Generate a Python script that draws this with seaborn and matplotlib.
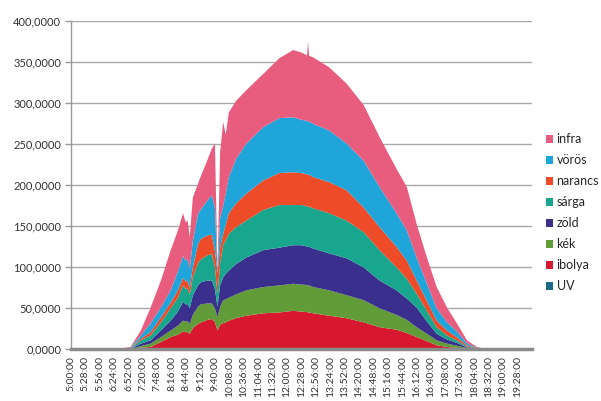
import numpy as np
import matplotlib
matplotlib.use("Agg")
import matplotlib.pyplot as plt
import seaborn as sns
from matplotlib.patches import Patch
from matplotlib.ticker import FuncFormatter

# sample times
times = ["5:00", "6:30", "6:55", "7:15", "7:34", "7:54", "8:13", "8:27", "8:37", "8:42",
         "8:46", "8:50", "8:56", "9:06", "9:12", "9:25", "9:33", "9:39", "9:44", "9:49",
         "9:55", "10:00", "10:06", "10:20", "10:40", "11:13", "11:44", "12:11", "12:27", "12:38",
         "12:40", "12:42", "12:50", "13:21", "13:55", "14:28", "14:59", "15:32", "15:52", "16:11",
         "16:31", "16:50", "17:10", "17:29", "17:49", "18:08", "18:28", "19:56"]

uv = [0, 0, 0, 0.1, 0.2, 0.3, 0.5, 0.6, 0.7, 0.7,
      0.7, 0.6, 0.8, 0.9, 1.0, 1.0, 1.1, 1.0, 0.7, 0.9,
      1.0, 1.0, 1.1, 1.2, 1.3, 1.4, 1.5, 1.5, 1.5, 1.5,
      1.5, 1.5, 1.4, 1.3, 1.2, 1.1, 0.9, 0.7, 0.6, 0.5,
      0.3, 0.2, 0.1, 0.1, 0, 0, 0, 0]
ibolya = [0, 0, 0.2, 1.9, 2.8, 8.7, 14.5, 17.4, 21.3, 20.3,
          20.3, 18.4, 25.2, 30.1, 32, 35, 35.9, 32, 22.3, 29.1,
          31, 32, 33.9, 36.8, 39.7, 42.6, 43.5, 45.5, 44.5, 44,
          43.5, 43.5, 42.6, 39.7, 36.8, 31.9, 26.1, 23.3, 19.4, 14.5,
          9.7, 4.8, 2.9, 1.7, 0.6, 0.2, 0, 0]
kek = [0, 0, 0.2, 2, 4, 6, 8, 11, 13, 13,
       13, 12, 16, 21, 22, 20, 19, 17, 16, 22,
       28, 28, 28, 29, 31, 32, 33, 33, 33, 33,
       33, 33, 32, 31, 28, 27, 23, 18, 16, 12,
       9, 6, 4, 2.7, 0.9, 0.2, 0, 0]
zold = [0, 0, 0.3, 3, 4, 8, 12, 17, 23, 21,
        21, 19, 24, 26, 27, 28, 28, 23, 13, 26,
        28, 31, 33, 37, 40, 45, 46, 47, 48, 47,
        47, 47, 47, 45, 45, 40, 34, 30, 26, 24,
        15, 8, 5, 3.5, 1, 0.3, 0, 0]
sarga = [0, 0, 0.3, 4, 6, 10, 15, 17, 20, 19,
         19, 17, 22, 27, 28, 31, 32, 27, 16, 27,
         39, 41, 45, 45, 45, 49, 52, 49, 49, 49,
         49, 49, 49, 49, 46, 43, 37, 28, 24, 17,
         13, 8, 5, 3, 1, 0.3, 0, 0]
narancs = [0, 0, 0.3, 2, 4, 6, 7, 9, 9, 9,
           9, 8, 12, 23, 25, 24, 24, 20, 25, 19,
           14, 19, 25, 29, 33, 36, 39, 40, 39, 39,
           39, 39, 38, 38, 37, 30, 28, 25, 22, 16,
           12, 8, 6, 4, 1.5, 0.4, 0, 0]
voros = [0, 0, 0.7, 4, 11, 12, 15, 23, 27, 25,
         27, 23, 32, 37, 36, 43, 48, 52, 2, 36,
         34, 38, 44, 54, 61, 65, 67, 67, 65, 65,
         65, 65, 65, 63, 57, 57, 49, 41, 37, 28,
         21, 15, 10, 7, 2.5, 0.6, 0, 0]
infra = [0, 0, 1.0, 6, 19, 33, 49, 50, 52, 47,
         47, 39, 53, 37, 41, 50, 57, 79, 1, 80,
         102, 72, 79, 71, 65, 65, 73, 82, 82, 80,
         97, 80, 81, 77, 73, 68, 61, 54, 53, 41,
         32, 26, 18, 10, 3.5, 1, 0, 0]

series_names = ["UV", "ibolya", "kék", "zöld", "sárga", "narancs", "vörös", "infra"]
series_colors = ["#1B6A87", "#D8182E", "#629C38", "#3B2F8E", "#19A68E",
                 "#EE4C28", "#1FA5D9", "#E85D7E"]

y_ticks = [0, 50, 100, 150, 200, 250, 300, 350, 400]


def to_min(s):
    h, m = s.split(":")
    return int(h) * 60 + int(m)


x = np.array([to_min(t) for t in times])

sns.set_style("white")
plt.rcParams["font.family"] = ["Lato", "DejaVu Sans"]

fig = plt.figure(figsize=(6.01, 4.01), dpi=100)
ax = fig.add_axes([0.118, 0.130, 0.767, 0.818])

data = [uv, ibolya, kek, zold, sarga, narancs, voros, infra]
ax.stackplot(x, *[np.array(d) for d in data], colors=series_colors,
             linewidth=0, antialiased=True, zorder=2)

ax.set_xlim(300, 1196)
ax.set_ylim(0, 400)
ax.set_yticks(y_ticks)
ax.yaxis.set_major_formatter(FuncFormatter(lambda v, p: f"{int(v)},0000"))
ax.grid(axis="y", color="#A8A8A8", linewidth=1.0, zorder=0)
ax.grid(axis="x", visible=False)
ax.set_axisbelow(True)

xt = np.arange(300, 1169, 28)
ax.set_xticks(xt)
ax.set_xticklabels([f"{m // 60}:{m % 60:02d}:00" for m in xt], rotation=90,
                   fontsize=7.5, color="#333333")
ax.tick_params(axis="x", length=0, pad=5)
ax.tick_params(axis="y", length=4, width=1, color="#9A9A9A", direction="out",
               labelsize=8, labelcolor="#333333", pad=3, left=True)

sns.despine(ax=ax, top=True, right=True)
ax.spines["left"].set_color("#9A9A9A")
ax.spines["left"].set_linewidth(1.0)
ax.spines["bottom"].set_color("#8A8A8A")
ax.spines["bottom"].set_linewidth(2.5)

handles = [Patch(facecolor=c, edgecolor="none") for c in series_colors][::-1]
labels = series_names[::-1]
fig.legend(handles, labels, loc="upper left", bbox_to_anchor=(0.900, 0.680),
           frameon=False, fontsize=9, handlelength=0.55, handleheight=0.55,
           handletextpad=0.3, labelspacing=0.72, borderaxespad=0)

fig.savefig("out.png", dpi=100)
